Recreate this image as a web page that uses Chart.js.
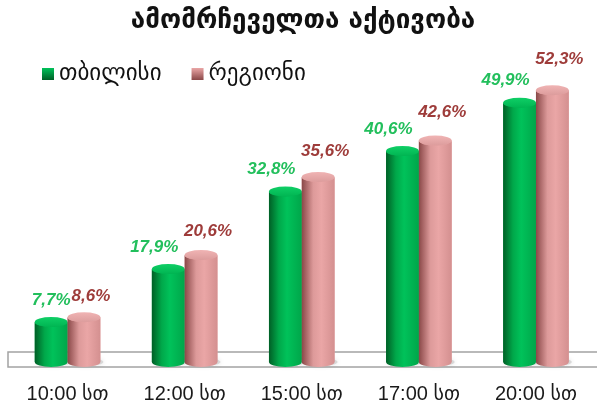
<!DOCTYPE html>
<html>
<head>
<meta charset="utf-8">
<script src="https://cdn.jsdelivr.net/npm/chart.js@4.4.1/dist/chart.umd.min.js"></script>
<style>
	html, body { margin: 0; padding: 0; background: #fff; }
</style>
</head>
<body>
<canvas id="turnoutChart" width="597" height="406"></canvas>
<script>
const chartTitle = 'ამომრჩეველთა აქტივობა';
const hours = ['10:00 სთ', '12:00 სთ', '15:00 სთ', '17:00 სთ', '20:00 სთ'];
const seriesNames = ['თბილისი', 'რეგიონი'];
const tbilisiTurnout = [7.7, 17.9, 32.8, 40.6, 49.9];
const regionsTurnout = [8.6, 20.6, 35.6, 42.6, 52.3];

const georgianFont = "'DejaVu Sans', sans-serif";
const latinFont = "'Liberation Sans', 'DejaVu Sans', sans-serif";

// cylinder colours per series: body gradient (left -> right), cap colour, label colour
const palettes = [
	{
		body: [[0, '#005f26'], [0.3, '#00a84a'], [0.55, '#00c25a'], [1, '#00a64a']],
		cap: ['#00b552', '#0fcf66'],
		label: '#22bf5c',
	},
	{
		body: [[0, '#8a4848'], [0.35, '#dd9a9a'], [0.6, '#eaa6a6'], [1, '#d49090']],
		cap: ['#dc9c9c', '#f0b4b4'],
		label: '#9e3c3a',
	},
];

const fmtPct = (v) => `${v.toFixed(1).replace('.', ',')}%`;

// flat "floor" box under the bars
const floorPlugin = {
	id: 'floor',
	beforeDatasetsDraw(chart) {
		const { ctx, chartArea } = chart;
		const base = chart.scales.y.getPixelForValue(0);
		const left = chartArea.left - 1;
		ctx.save();
		ctx.fillStyle = '#ffffff';
		ctx.fillRect(left, base - 10, chart.width - left + 10, 15);
		ctx.strokeStyle = '#a3a3a3';
		ctx.lineWidth = 1.5;
		ctx.strokeRect(left, base - 10, chart.width - left + 10, 15);
		ctx.restore();
	},
};

// redraw every bar as a cylinder, using the geometry Chart.js computed
const cylinderPlugin = {
	id: 'cylinders',
	afterDatasetsDraw(chart) {
		const ctx = chart.ctx;
		const ry = 5;
		chart.data.datasets.forEach((ds, di) => {
			const pal = palettes[di];
			chart.getDatasetMeta(di).data.forEach((bar) => {
				const { x, y, base, width } = bar.getProps(['x', 'y', 'base', 'width'], true);
				const rx = width / 2;
				const left = x - rx;
				const right = x + rx;

				ctx.save();
				// soft shadow on the floor
				ctx.shadowColor = 'rgba(0,0,0,0.25)';
				ctx.shadowBlur = 5;
				ctx.fillStyle = 'rgba(190,190,190,0.5)';
				ctx.beginPath();
				ctx.ellipse(x + 2, base, rx + 1, ry - 1, 0, 0, Math.PI * 2);
				ctx.fill();
				ctx.restore();

				ctx.save();
				const g = ctx.createLinearGradient(left, 0, right, 0);
				pal.body.forEach(([stop, col]) => g.addColorStop(stop, col));
				ctx.fillStyle = g;
				ctx.beginPath();
				ctx.moveTo(left, y);
				ctx.lineTo(left, base);
				ctx.ellipse(x, base, rx, ry, 0, Math.PI, 0, true);
				ctx.lineTo(right, y);
				ctx.ellipse(x, y, rx, ry, 0, 0, Math.PI, false);
				ctx.closePath();
				ctx.fill();

				const cg = ctx.createLinearGradient(0, y - ry, 0, y + ry);
				cg.addColorStop(0, pal.cap[1]);
				cg.addColorStop(1, pal.cap[0]);
				ctx.fillStyle = cg;
				ctx.beginPath();
				ctx.ellipse(x, y, rx, ry, 0, 0, Math.PI * 2);
				ctx.fill();
				ctx.restore();
			});
		});
	},
};

// value labels above the cylinders (nudged like the original's perspective)
const valueLabelPlugin = {
	id: 'valueLabels',
	afterDatasetsDraw(chart) {
		const ctx = chart.ctx;
		ctx.save();
		ctx.font = `italic bold 17px ${latinFont}`;
		ctx.textAlign = 'center';
		ctx.textBaseline = 'middle';
		chart.data.datasets.forEach((ds, di) => {
			ctx.fillStyle = palettes[di].label;
			chart.getDatasetMeta(di).data.forEach((bar, i) => {
				const { x, y } = bar.getProps(['x', 'y'], true);
				const dx = di === 0 ? (i === 0 ? 0 : -14) : 7;
				const dy = di === 0 ? 22 : 21 + 2.5 * i;
				ctx.fillText(fmtPct(ds.data[i]), x + dx, y - dy);
			});
		});
		ctx.restore();
	},
};

// legend in the top-left corner
const legendPlugin = {
	id: 'topLegend',
	afterDraw(chart) {
		const ctx = chart.ctx;
		const cy = 74;
		const box = 12;
		let cx = 42;
		ctx.save();
		ctx.font = `23px ${georgianFont}`;
		ctx.textBaseline = 'middle';
		ctx.textAlign = 'left';
		chart.data.datasets.forEach((ds, di) => {
			const pal = palettes[di];
			const g = ctx.createLinearGradient(0, cy - box / 2, 0, cy + box / 2);
			g.addColorStop(0, pal.body[2][1]);
			g.addColorStop(1, pal.body[0][1]);
			ctx.fillStyle = g;
			ctx.fillRect(cx, cy - box / 2, box, box);
			ctx.fillStyle = '#111';
			ctx.fillText(ds.label, cx + box + 5, cy);
			cx += box + 5 + ctx.measureText(ds.label).width + 30;
		});
		ctx.restore();
	},
};

const ctx = document.getElementById('turnoutChart').getContext('2d');
new Chart(ctx, {
	type: 'bar',
	data: {
		labels: hours,
		datasets: [
			{
				label: seriesNames[0],
				data: tbilisiTurnout,
				backgroundColor: '#00b050',
			},
			{
				label: seriesNames[1],
				data: regionsTurnout,
				backgroundColor: '#e6a0a0',
			},
		],
	},
	options: {
		responsive: false,
		animation: false,
		devicePixelRatio: 1,
		layout: {
			padding: { top: 6, left: 9, right: 0, bottom: 0 },
		},
		datasets: {
			bar: {
				categoryPercentage: 0.56,
				barPercentage: 1,
				clip: false,
			},
		},
		plugins: {
			legend: { display: false },
			tooltip: { enabled: false },
			title: {
				display: true,
				text: chartTitle,
				color: '#111',
				font: { family: georgianFont, size: 26, weight: 'bold' },
				padding: { top: 0, bottom: 13 },
			},
		},
		scales: {
			x: {
				grid: { display: false, drawTicks: false },
				border: { display: false },
				ticks: {
					color: '#1a1a1a',
					padding: 20,
					font: { family: latinFont, size: 20 },
				},
				afterFit: (scale) => {
					scale.height = 44;
				},
			},
			y: {
				display: false,
				min: 0,
				max: 60,
			},
		},
	},
	plugins: [floorPlugin, cylinderPlugin, valueLabelPlugin, legendPlugin],
});
</script>
</body>
</html>
